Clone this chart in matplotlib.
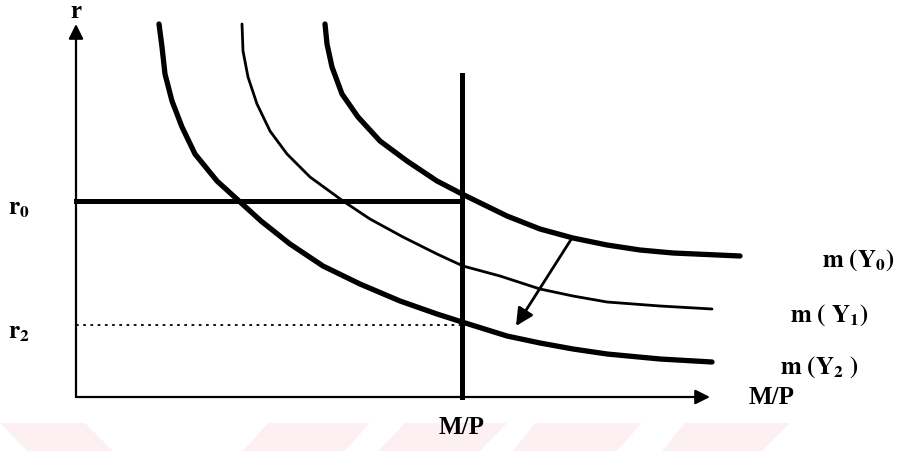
import matplotlib.pyplot as plt
from matplotlib.patches import Polygon

plt.rcParams['mathtext.fontset'] = 'stix'
plt.rcParams['font.family'] = ['Liberation Serif', 'DejaVu Serif']

# money demand curves m(Y) (x = M/P, y = r)
y0_x = [249, 251, 256, 266, 282, 304, 331, 361, 386, 431, 464, 497, 531, 564, 597, 664]
y0_r = [373, 353, 330, 303, 280, 256, 236, 216, 203, 181, 168, 159, 152, 147, 144, 141]
y1_x = [166, 167, 172, 181, 194, 211, 234, 267, 294, 327, 361, 387, 424, 464, 497, 531, 584, 636]
y1_r = [373, 346, 320, 293, 266, 243, 220, 196, 178, 160, 143, 131, 121, 108, 101, 95, 91, 88]
y2_x = [83, 86, 89, 96, 106, 119, 141, 163, 185, 214, 247, 284, 324, 361, 386, 431, 464, 497, 531, 584, 636]
y2_r = [373, 350, 323, 296, 270, 243, 216, 196, 176, 153, 131, 113, 96, 83, 75, 61, 54, 48, 43, 38, 35]

r0 = 196
r2 = 72
mp = 386          # money supply M/P
mp_top = 322
x_end = 634
r_end = 373

# faint pink stripes at the bottom (x left/right at top, then at bottom)
stripes = [(-76, 9, -49, 37), (192, 294, 167, 269), (329, 431, 302, 404),
           (459, 566, 437, 541), (609, 714, 586, 686)]

fig = plt.figure(figsize=(9.15, 4.52), dpi=100)
ax = fig.add_axes([0, 0, 1, 1])
ax.set_xlim(-76, 839)
ax.set_ylim(-54, 398)
ax.axis('off')

for a, b, c, d in stripes:
    ax.add_patch(Polygon([(a, -26), (b, -26), (d, -54), (c, -54)],
                         closed=True, color='#fdf0f2', lw=0, zorder=0))

# axes with arrows
ax.annotate('', xy=(0, r_end), xytext=(0, 0),
            arrowprops=dict(arrowstyle='-|>', color='black', lw=1.6,
                            mutation_scale=22, shrinkA=0, shrinkB=0))
ax.annotate('', xy=(x_end, 0), xytext=(0, 0),
            arrowprops=dict(arrowstyle='-|>', color='black', lw=1.6,
                            mutation_scale=22, shrinkA=0, shrinkB=0))

ax.plot([mp, mp], [0, mp_top], color='black', lw=3.6)
ax.plot([0, mp], [r0, r0], color='black', lw=3.6)
ax.plot([0, mp], [r2, r2], color='black', lw=1.3, ls=(0, (1.5, 2.5)))

ax.plot(y0_x, y0_r, color='black', lw=3.8, solid_capstyle='round', solid_joinstyle='round')
ax.plot(y1_x, y1_r, color='black', lw=2.0, solid_capstyle='round', solid_joinstyle='round')
ax.plot(y2_x, y2_r, color='black', lw=3.8, solid_capstyle='round', solid_joinstyle='round')

# shift of the curve
ax.annotate('', xy=(440, 71), xytext=(496, 159),
            arrowprops=dict(arrowstyle='-|>', color='black', lw=2,
                            mutation_scale=26, shrinkA=0, shrinkB=0))

txt = dict(fontsize=18, fontweight='bold', color='black')
ax.text(0, 386, 'r', ha='center', va='center', **txt)
ax.text(-68, 190, r'$\mathbf{r_0}$', ha='left', va='center', **txt)
ax.text(-68, 66, r'$\mathbf{r_2}$', ha='left', va='center', **txt)
ax.text(746, 138, r'$\mathbf{m\ (Y_0)}$', ha='left', va='center', **txt)
ax.text(714, 83, r'$\mathbf{m\ (\ Y_1)}$', ha='left', va='center', **txt)
ax.text(704, 31, r'$\mathbf{m\ (Y_2\ )}$', ha='left', va='center', **txt)
ax.text(696, 0, 'M/P', ha='center', va='center', **txt)
ax.text(mp, -30, 'M/P', ha='center', va='center', **txt)

fig.savefig('out.png', dpi=100)
